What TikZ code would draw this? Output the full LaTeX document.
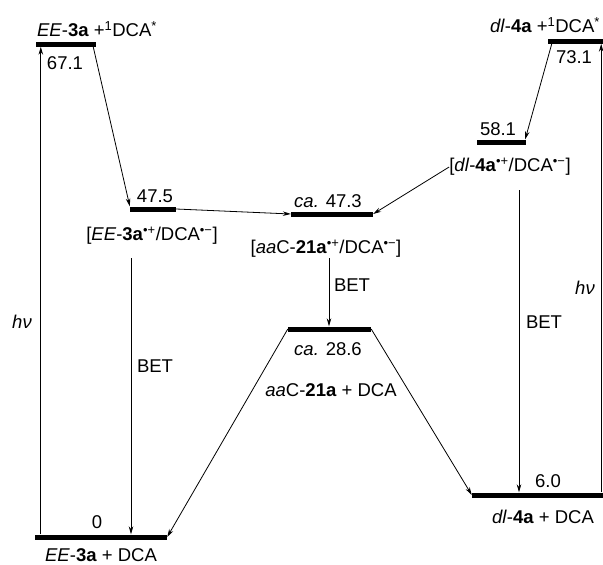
\documentclass[tikz,border=0pt]{standalone}
\usepackage{fontspec}
\setmainfont{Liberation Sans}
\usetikzlibrary{arrows.meta}

\begin{document}
\begin{tikzpicture}[x=1pt, y=-1pt,
  nivel/.style={fill=black, inner sep=0pt, minimum height=5pt},
  rotulo/.style={inner sep=0pt, font=\fontsize{18.5}{21}\selectfont},
  seta/.style={line width=0.8pt, -{Stealth[length=8pt,width=4.5pt]}}]
  \useasboundingbox (0,0) rectangle (603,565);
  % Niveis de energia
  \node[nivel, minimum width=60pt] (e671) at (66,44) {};
  \node[nivel, minimum width=46pt] (e475) at (153,209) {};
  \node[nivel, minimum width=82pt] (c473) at (332,214) {};
  \node[nivel, minimum width=55pt] (d731) at (575.5,41) {};
  \node[nivel, minimum width=49pt] (d581) at (501.5,142) {};
  \node[nivel, minimum width=83pt] (c286) at (329.5,329) {};
  \node[nivel, minimum width=132pt] (e0) at (101,537) {};
  \node[nivel, minimum width=131pt] (d60) at (537.5,495) {};
  % Rotulos
  \node[rotulo] (e671t) at (97,29) {\textit{EE}-\textbf{3a} +\textsuperscript{1}DCA\textsuperscript{*}};
  \node[rotulo] (e671v) at (65,63) {67.1};
  \node[rotulo] (e475v) at (155,196) {47.5};
  \node[rotulo] (e475t) at (152,236) {[\textit{EE}-\textbf{3a}\textsuperscript{•+}/DCA\textsuperscript{•−}]};
  \node[rotulo] (c473v) at (328,201) {\textit{ca.} 47.3};
  \node[rotulo] (c473t) at (326,249) {[\textit{aa}C-\textbf{21a}\textsuperscript{•+}/DCA\textsuperscript{•−}]};
  \node[rotulo] (d731t) at (545,25) {\textit{dl}-\textbf{4a} +\textsuperscript{1}DCA\textsuperscript{*}};
  \node[rotulo] (d731v) at (574,57) {73.1};
  \node[rotulo] (d581v) at (498,129) {58.1};
  \node[rotulo] (d581t) at (510,167) {[\textit{dl}-\textbf{4a}\textsuperscript{•+}/DCA\textsuperscript{•−}]};
  \node[rotulo] (c286v) at (328,349) {\textit{ca.} 28.6};
  \node[rotulo] (c286t) at (331,390) {\textit{aa}C-\textbf{21a} + DCA};
  \node[rotulo] (e0v) at (97,522) {0};
  \node[rotulo] (e0t) at (101,555) {\textit{EE}-\textbf{3a} + DCA};
  \node[rotulo] (d60v) at (548,481) {6.0};
  \node[rotulo] (d60t) at (543,517) {\textit{dl}-\textbf{4a} + DCA};
  \node[rotulo] (bet1t) at (155,366) {BET};
  \node[rotulo] (bet2t) at (352,285) {BET};
  \node[rotulo] (bet3t) at (544,322) {BET};
  \node[rotulo] (hv1) at (22,322) {\textit{hν}};
  \node[rotulo] (hv2) at (585,288) {\textit{hν}};
  % Excitacao
  \draw[seta] ([xshift=6pt]e0.north west) -- ([xshift=6pt]e0.north west |- e671.south);
  \draw[seta] ([xshift=-2pt]d60.north east) -- ([xshift=-2pt]d60.north east |- d731.south);
  % Transferencia de eletron
  \draw[seta] ([xshift=-3pt]e671.south east) -- (e475.north west);
  \draw[seta] (e475.east) -- (c473.west);
  \draw[seta] (d581t.west) -- (c473.east);
  \draw[seta] ([xshift=4pt]d731.south west) -- ([xshift=-1pt]d581.north east);
  % BET
  \coordinate (bet1) at (131,258);
  \coordinate (bet2) at (329,258);
  \coordinate (bet3) at (519,190);
  \draw[seta] (bet1) -- (bet1 |- e0.north);
  \draw[seta] (bet2) -- (bet2 |- c286.north);
  \draw[seta] (bet3) -- (bet3 |- d60.north);
  % Decaimento
  \draw[seta] (c286.west) -- (e0.east);
  \draw[seta] (c286.east) -- (d60.west);
\end{tikzpicture}
\end{document}
